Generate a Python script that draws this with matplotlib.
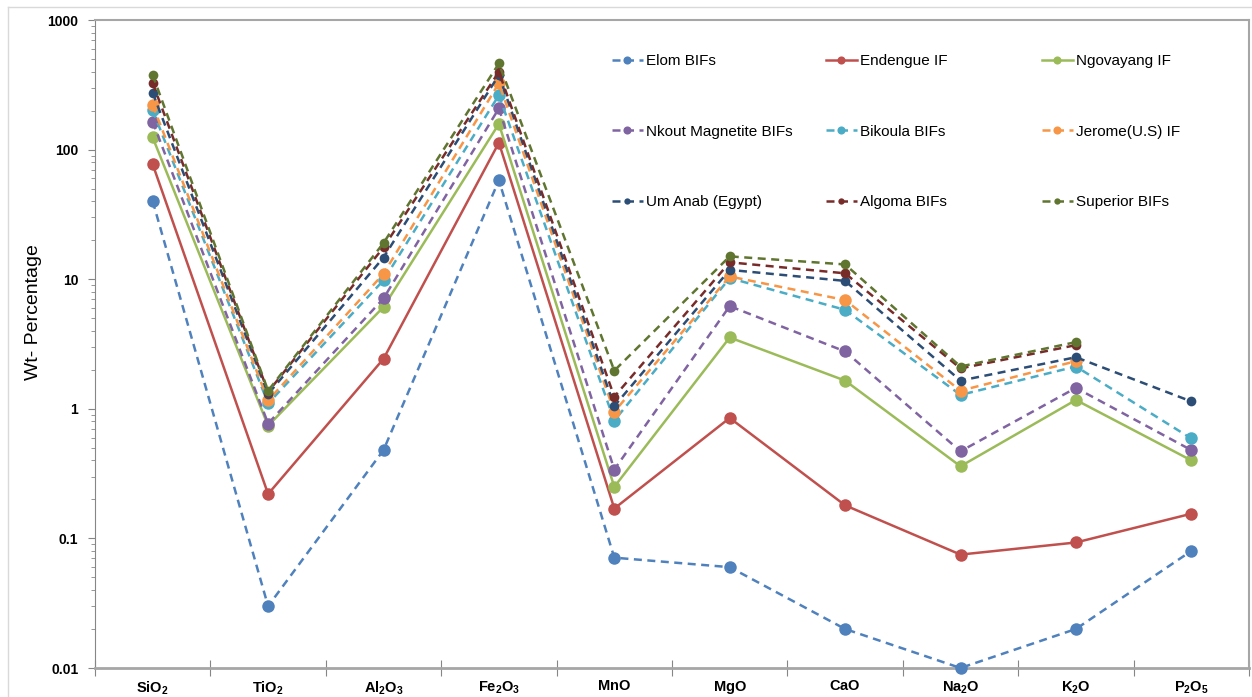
import numpy as np
import matplotlib
matplotlib.use('Agg')
import matplotlib.pyplot as plt
from matplotlib.lines import Line2D

plt.rcParams['font.family'] = ['Liberation Sans', 'DejaVu Sans']
plt.rcParams['mathtext.fontset'] = 'custom'
plt.rcParams['mathtext.rm'] = 'Liberation Sans'
plt.rcParams['mathtext.bf'] = 'Liberation Sans:bold'

nan = np.nan
oxides = [r'$\mathbf{SiO_2}$', r'$\mathbf{TiO_2}$', r'$\mathbf{Al_2O_3}$', r'$\mathbf{Fe_2O_3}$',
          r'$\mathbf{MnO}$', r'$\mathbf{MgO}$', r'$\mathbf{CaO}$', r'$\mathbf{Na_2O}$',
          r'$\mathbf{K_2O}$', r'$\mathbf{P_2O_5}$']

elom = [40, 0.03, 0.48, 58, 0.071, 0.06, 0.02, 0.01, 0.02, 0.08]
endengue = [77, 0.22, 2.43, 113, 0.17, 0.85, 0.18, 0.075, 0.093, 0.155]
ngovayang = [124, 0.74, 6.1, 158, 0.25, 3.55, 1.65, 0.36, 1.17, 0.40]
nkout = [164, 0.77, 7.1, 208, 0.34, 6.2, 2.77, 0.47, 1.45, 0.48]
bikoula = [201, 1.1, 9.8, 263, 0.81, 10.2, 5.8, 1.28, 2.12, 0.59]
jerome = [220, 1.16, 11, 325, 0.95, 10.5, 6.9, 1.38, 2.33, nan]
um_anab = [274, 1.3, 14.7, 376, 1.05, 11.8, 9.7, 1.65, 2.5, 1.14]
algoma = [325, 1.35, 17.6, 398, 1.24, 13.5, 11.1, 2.05, 3.1, nan]
superior = [376, 1.38, 19, 462, 1.97, 15, 13, 2.12, 3.27, nan]

# name, values, colour, solid?, marker size
series = [
    ('Elom BIFs', elom, '#4F81BD', False, 9),
    ('Endengue IF', endengue, '#C0504D', True, 9),
    ('Ngovayang IF', ngovayang, '#9BBB59', True, 9),
    ('Nkout Magnetite BIFs', nkout, '#8064A2', False, 9),
    ('Bikoula BIFs', bikoula, '#4BACC6', False, 9),
    ('Jerome(U.S) IF', jerome, '#F79646', False, 9),
    ('Um Anab (Egypt)', um_anab, '#2C4D75', False, 7),
    ('Algoma BIFs', algoma, '#772C2A', False, 7),
    ('Superior BIFs', superior, '#5F7530', False, 7),
]

fig = plt.figure(figsize=(12.52, 6.97), dpi=100)
ax = fig.add_axes([95/1252, 1-668/697, (1249-95)/1252, (668-20)/697])

x = np.arange(len(oxides))
handles = []
for name, vals, col, solid, ms in series:
    ls = '-' if solid else (0, (3.2, 2.2))
    ln, = ax.plot(x, vals, color=col, lw=1.8, linestyle=ls, marker='o', ms=ms,
                  markeredgewidth=0, label=name, clip_on=False, zorder=3)
    handles.append(ln)

ax.set_yscale('log')
ax.set_ylim(0.01, 1000)
ax.set_xlim(-0.5, len(oxides) - 0.5)
ax.set_yticks([0.01, 0.1, 1, 10, 100, 1000])
ax.set_yticklabels(['0.01', '0.1', '1', '10', '100', '1000'], fontweight='bold', fontsize=10)
ax.tick_params(axis='y', which='major', direction='out', length=5, color='#868686', pad=7)
ax.tick_params(axis='y', which='minor', direction='out', length=3, color='#868686')

ax.set_xticks(np.arange(-0.5, len(oxides)), minor=False)
ax.set_xticklabels([])
ax.set_xticks(x, minor=True)
ax.set_xticklabels(oxides, minor=True, fontsize=10.5)
ax.tick_params(axis='x', which='major', direction='inout', length=12, color='#868686')
ax.tick_params(axis='x', which='minor', length=0, pad=8)

ax.spines['left'].set_color('#868686')
ax.spines['top'].set_color('#A6A6A6')
ax.spines['right'].set_color('#A6A6A6')
ax.spines['bottom'].set_color('#A6A6A6')
ax.spines['top'].set_linewidth(1.5)
ax.spines['right'].set_linewidth(1.5)
ax.spines['bottom'].set_linewidth(2)

fig.text(33/1252, 1-312/697, 'Wt- Percentage', rotation=90, fontsize=14,
         ha='center', va='center')

# outer chart border (left and top visible)
fig.add_artist(Line2D([8/1252, 8/1252], [0, 1-7/697], color='#D9D9D9', lw=1, transform=fig.transFigure))
fig.add_artist(Line2D([8/1252, 1], [1-7/697, 1-7/697], color='#D9D9D9', lw=1, transform=fig.transFigure))

# legend: three columns, filled row by row
col_x = [612, 826, 1042]
for c in range(3):
    hs = [handles[c], handles[c+3], handles[c+6]]
    leg = ax.legend(handles=hs, loc='upper left', bbox_to_anchor=(col_x[c]/1252, 1-54/697),
                    bbox_transform=fig.transFigure, frameon=False, borderpad=0,
                    borderaxespad=0, labelspacing=3.7, handlelength=2.0,
                    handletextpad=0.25, fontsize=11, markerscale=0.65, numpoints=1)
    if c < 2:
        ax.add_artist(leg)

fig.savefig('out.png', dpi=100)
